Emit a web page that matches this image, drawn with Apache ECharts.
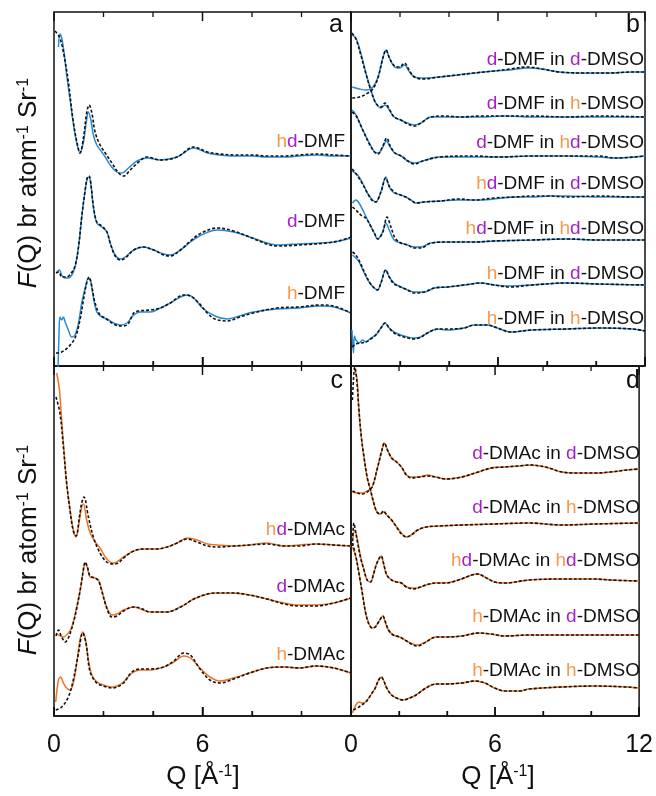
<!DOCTYPE html>
<html><head><meta charset="utf-8">
<script src="https://cdn.jsdelivr.net/npm/echarts@6/dist/echarts.min.js"></script>
<style>html,body{margin:0;padding:0;background:#fff}#c{width:656px;height:796px}</style>
</head><body><div id="c"></div>
<script>
// ---- axis ----
const xTicks = [0, 6, 12];
const xMinorTicks = [2, 4, 8, 10];
const xMin = 0, xMax = 12, xStep = 6;

// ---- panel a : DMF (solid = experiment, dashed = model) ----
const aExpHd = [[0.18,31.9],[0.24,33.2],[0.31,32.8],[0.41,31.3],[0.51,29.1],[0.65,26.6],[0.78,24.3],[0.92,22.3],[1.05,21.3],[1.19,22.4],[1.30,24.3],[1.39,25.4],[1.49,24.6],[1.59,23.1],[1.73,22.1],[1.93,21.4],[2.07,20.9],[2.27,20.1],[2.54,19.4],[2.74,19.3],[3.01,19.8],[3.35,20.5],[3.76,20.8],[4.30,20.6],[4.97,20.9],[5.65,21.8],[6.2,21.3],[6.7,21.1],[7.3,21.0],[8.0,21.0],[8.6,20.9],[9.3,20.9],[9.9,21.0],[10.6,21.1],[11.3,21.0],[12,21.0]];
const aSimHd = [[0.04,33.5],[0.22,32.9],[0.38,31.4],[0.58,28.4],[0.78,24.4],[0.95,22.1],[1.05,21.3],[1.19,22.8],[1.32,25.3],[1.42,26.1],[1.53,25.3],[1.66,23.4],[1.86,22.1],[2.07,21.3],[2.34,20.3],[2.61,19.3],[2.81,19.0],[3.08,19.6],[3.42,20.4],[3.76,20.9],[4.3,20.6],[4.97,20.9],[5.65,21.9],[6.2,21.4],[6.7,21.2],[7.3,21.1],[8.0,21.1],[8.6,21.0],[9.3,21.0],[9.9,21.1],[10.6,21.2],[11.3,21.1],[12,21.0]];
const aExpD = [[0.11,9.4],[0.22,9.6],[0.31,9.1],[0.45,8.8],[0.58,8.8],[0.72,9.1],[0.85,9.9],[0.99,11.9],[1.12,14.9],[1.26,17.6],[1.35,18.8],[1.42,18.9],[1.5,17.9],[1.59,15.9],[1.73,14.3],[1.93,13.9],[2.14,13.4],[2.27,12.3],[2.47,11.1],[2.68,10.7],[2.88,10.9],[3.22,11.6],[3.62,11.9],[4.03,11.6],[4.43,11.2],[4.7,11.1],[5.11,11.6],[5.51,12.4],[5.95,13.1],[6.6,13.6],[7.25,13.4],[7.9,12.9],[8.6,12.3],[9.0,12.1],[9.9,12.2],[11.3,12.4],[12,12.8]];
const aSimD = [[0.08,9.3],[0.2,9.4],[0.31,8.9],[0.51,8.9],[0.7,9.3],[0.85,10.0],[0.99,11.9],[1.12,14.9],[1.26,17.6],[1.35,18.9],[1.42,19.0],[1.5,18.0],[1.59,16.0],[1.73,14.4],[1.93,14.0],[2.14,13.4],[2.27,12.3],[2.47,11.0],[2.68,10.6],[2.88,10.8],[3.22,11.6],[3.62,11.9],[4.03,11.6],[4.43,11.1],[4.7,11.0],[5.11,11.6],[5.51,12.5],[5.95,13.3],[6.6,13.8],[7.25,13.5],[7.9,12.9],[8.6,12.2],[9.0,12.0],[9.9,12.1],[11.3,12.4],[12,12.9]];
const aExpH = [[0.16,-0.5],[0.2,3.0],[0.24,4.9],[0.31,4.6],[0.38,4.9],[0.45,4.4],[0.58,3.6],[0.72,2.9],[0.85,3.1],[0.99,4.3],[1.12,6.3],[1.26,7.8],[1.39,8.8],[1.49,8.4],[1.59,6.9],[1.73,5.4],[1.93,4.9],[2.14,4.7],[2.41,4.3],[2.68,4.1],[2.95,4.3],[3.22,5.1],[3.49,5.4],[3.89,5.4],[4.3,5.8],[4.7,6.3],[5.11,6.9],[5.38,7.1],[5.65,6.8],[6.0,5.8],[6.5,5.0],[7.0,4.7],[7.5,5.0],[8.05,5.4],[9.0,5.7],[9.9,5.8],[10.75,6.0],[11.3,5.9],[12,5.3]];
const aSimH = [[0.08,1.3],[0.31,1.4],[0.58,1.9],[0.85,2.8],[1.05,4.6],[1.19,6.6],[1.32,8.3],[1.42,8.9],[1.53,7.9],[1.66,6.3],[1.86,5.1],[2.07,4.8],[2.34,4.3],[2.68,4.0],[2.95,4.1],[3.22,5.3],[3.42,5.5],[3.89,5.6],[4.3,5.8],[4.7,6.3],[5.24,7.1],[5.51,7.0],[5.85,6.3],[6.19,5.3],[6.5,4.7],[7.0,4.5],[7.5,4.9],[8.05,5.3],[9.0,5.8],[9.9,5.9],[10.75,6.1],[11.3,6.0],[12,5.3]];

// ---- panel b : DMF in DMSO ----
const bExp1 = [[0.05,27.9],[0.35,27.7],[0.62,27.6],[0.89,27.9],[1.1,28.9],[1.3,30.8],[1.43,31.6],[1.57,30.8],[1.78,29.9],[1.98,29.8],[2.18,30.1],[2.39,29.4],[2.59,28.9],[2.93,28.8],[3.61,28.9],[4.35,29.1],[5.03,29.3],[5.84,29.5],[6.5,29.6],[7.2,29.8],[7.8,29.7],[8.5,29.4],[9.5,29.3],[10.5,29.3],[11.5,29.4],[12,29.4]];
const bSim1 = [[0.05,26.8],[0.35,26.9],[0.62,27.2],[0.89,27.7],[1.1,28.8],[1.3,30.8],[1.43,31.6],[1.57,30.8],[1.78,30.0],[1.98,29.9],[2.18,30.3],[2.39,29.5],[2.59,28.9],[2.93,28.7],[3.61,28.9],[4.35,29.1],[5.03,29.3],[5.84,29.5],[6.5,29.7],[7.2,29.9],[7.8,29.7],[8.5,29.4],[9.5,29.3],[10.5,29.3],[11.5,29.4],[12,29.4]];
const bExp2 = [[0.04,33.1],[0.2,32.8],[0.4,31.3],[0.61,29.3],[0.81,27.6],[1.01,26.3],[1.22,25.8],[1.39,26.1],[1.56,25.6],[1.76,24.9],[2.03,24.6],[2.31,24.3],[2.6,24.1],[2.85,24.3],[3.26,24.9],[3.8,24.9],[4.48,24.9],[5.3,24.9],[6.25,25.0],[7.4,24.9],[8.8,24.9],[10.1,24.9],[12,24.9]];
const bSim2 = [[0.04,33.3],[0.2,32.7],[0.4,31.1],[0.61,29.2],[0.81,27.6],[1.01,26.3],[1.22,25.9],[1.39,26.3],[1.56,25.7],[1.76,24.9],[2.03,24.6],[2.31,24.2],[2.6,24.0],[2.85,24.3],[3.26,24.9],[3.8,25.0],[4.48,24.9],[5.3,25.0],[6.25,25.0],[7.4,25.0],[8.8,24.9],[10.1,25.0],[12,24.9]];
const bExp3 = [[0.05,25.6],[0.21,25.1],[0.48,23.6],[0.75,22.3],[0.96,21.4],[1.1,21.3],[1.3,21.9],[1.44,22.5],[1.6,21.9],[1.78,21.3],[2.05,21.0],[2.32,20.5],[2.59,20.3],[2.93,20.5],[3.61,20.9],[4.97,20.9],[6.06,20.9],[7.4,21.0],[8.8,21.0],[10.1,20.9],[10.8,20.8],[12,21.0]];
const bSim3 = [[0.05,25.4],[0.21,25.0],[0.48,23.6],[0.75,22.2],[0.96,21.4],[1.1,21.2],[1.3,22.0],[1.46,22.8],[1.62,21.9],[1.8,21.3],[2.05,21.0],[2.32,20.5],[2.59,20.2],[2.93,20.5],[3.61,20.9],[4.97,21.0],[6.06,20.9],[7.4,21.0],[8.8,21.0],[10.1,21.0],[10.8,20.8],[12,21.0]];
const bExp4 = [[0.05,19.5],[0.27,19.1],[0.47,18.3],[0.67,17.3],[0.88,16.6],[1.01,16.4],[1.22,17.4],[1.42,18.9],[1.56,17.9],[1.76,17.3],[2.03,17.1],[2.24,16.9],[2.44,16.6],[2.65,16.3],[2.99,16.4],[3.67,16.5],[4.35,16.6],[5.03,16.6],[5.84,16.7],[6.7,16.9],[7.4,16.9],[8.1,17.0],[8.8,17.0],[10.1,16.9],[11.5,16.9],[12,16.9]];
const bSim4 = [[0.05,19.7],[0.27,19.0],[0.47,18.2],[0.67,17.3],[0.88,16.5],[1.01,16.4],[1.22,17.4],[1.42,18.8],[1.56,18.0],[1.76,17.4],[2.03,17.1],[2.24,16.9],[2.44,16.6],[2.65,16.3],[2.99,16.4],[3.67,16.5],[4.35,16.7],[5.03,16.6],[5.84,16.8],[6.7,16.9],[7.4,17.0],[8.1,17.0],[8.8,16.9],[10.1,17.0],[11.5,16.9],[12,16.9]];
const bExp5 = [[0.06,16.3],[0.2,16.6],[0.33,16.3],[0.54,15.3],[0.74,14.3],[0.95,13.3],[1.08,12.7],[1.29,13.4],[1.42,14.3],[1.56,13.6],[1.76,12.6],[2.03,12.3],[2.31,12.1],[2.58,11.9],[2.85,11.9],[3.26,12.3],[3.94,12.4],[5.03,12.4],[5.84,12.5],[7.4,12.6],[8.8,12.7],[10.1,12.6],[12,12.6]];
const bSim5 = [[0.06,15.9],[0.2,15.6],[0.4,15.1],[0.6,14.8],[0.8,14.0],[0.95,13.3],[1.1,12.7],[1.3,13.4],[1.47,14.9],[1.63,13.9],[1.8,12.8],[2.03,12.3],[2.31,12.1],[2.58,11.8],[2.85,11.8],[3.26,12.3],[3.94,12.4],[5.03,12.4],[5.84,12.5],[7.4,12.6],[8.8,12.7],[10.1,12.6],[12,12.6]];
const bExp6 = [[0.06,11.1],[0.2,10.8],[0.33,10.4],[0.54,9.3],[0.74,8.4],[0.95,7.8],[1.08,7.6],[1.22,8.3],[1.42,9.6],[1.56,8.9],[1.76,8.3],[2.03,7.9],[2.31,7.6],[2.58,7.4],[2.99,7.4],[3.4,7.8],[3.94,7.9],[4.62,8.1],[5.3,8.3],[5.84,8.1],[6.5,8.0],[7.4,8.1],[8.8,8.3],[10.1,8.2],[12,8.1]];
const bSim6 = [[0.06,11.4],[0.2,11.1],[0.4,10.2],[0.6,9.1],[0.8,8.2],[0.95,7.8],[1.08,7.6],[1.22,8.3],[1.42,9.6],[1.56,8.9],[1.76,8.2],[2.03,7.9],[2.31,7.6],[2.58,7.3],[2.99,7.4],[3.4,7.8],[3.94,7.9],[4.62,8.1],[5.3,8.3],[5.84,8.1],[6.5,7.9],[7.4,8.1],[8.8,8.3],[10.1,8.2],[12,8.1]];
const bExp7 = [[0.04,3.6],[0.1,1.3],[0.14,3.0],[0.2,2.6],[0.33,2.3],[0.47,2.6],[0.61,2.4],[0.81,2.8],[1.01,3.1],[1.22,3.8],[1.39,4.3],[1.56,3.8],[1.76,3.4],[2.03,3.1],[2.31,2.9],[2.58,2.8],[2.85,2.9],[3.12,3.3],[3.53,3.7],[3.94,3.6],[4.62,3.8],[5.03,4.1],[5.57,4.1],[5.98,3.8],[6.5,3.4],[7.4,3.6],[8.8,3.7],[10.1,3.8],[11.5,3.7],[12,3.5]];
const bSim7 = [[0.05,1.9],[0.2,2.2],[0.4,2.3],[0.61,2.4],[0.81,2.7],[1.01,3.1],[1.22,3.8],[1.39,4.3],[1.56,3.8],[1.76,3.3],[2.03,3.0],[2.31,2.8],[2.58,2.7],[2.85,2.9],[3.12,3.3],[3.53,3.7],[3.94,3.7],[4.62,3.8],[5.03,4.1],[5.57,4.1],[5.98,3.8],[6.5,3.4],[7.4,3.6],[8.8,3.7],[10.1,3.8],[11.5,3.7],[12,3.5]];

// ---- panel c : DMAc ----
const cExpHd = [[0.11,34.3],[0.22,32.6],[0.31,29.6],[0.41,26.3],[0.51,23.3],[0.65,20.6],[0.78,18.6],[0.89,17.9],[1.03,19.6],[1.12,20.9],[1.19,21.2],[1.32,19.6],[1.46,18.3],[1.66,17.4],[1.86,16.8],[2.07,15.9],[2.27,15.4],[2.41,15.3],[2.54,15.4],[2.81,15.9],[3.22,16.5],[3.62,16.7],[4.16,16.7],[4.57,16.9],[4.97,17.3],[5.38,17.8],[5.78,17.6],[6.2,17.2],[6.6,17.1],[7.25,17.0],[7.9,17.1],[8.6,17.3],[9.3,17.0],[9.9,17.1],[10.6,17.2],[11.3,17.1],[12,17.0]];
const cSimHd = [[0.08,31.9],[0.24,30.3],[0.38,26.9],[0.51,23.3],[0.65,20.5],[0.78,18.5],[0.89,18.0],[1.03,20.0],[1.12,21.3],[1.21,21.9],[1.39,19.9],[1.59,17.9],[1.86,16.3],[2.13,15.4],[2.41,15.2],[2.6,15.3],[2.81,15.8],[3.22,16.5],[3.62,16.7],[4.16,16.7],[4.57,16.9],[4.97,17.3],[5.38,17.7],[5.78,17.4],[6.2,17.0],[6.6,16.9],[7.25,17.0],[7.9,17.1],[8.6,17.2],[9.3,17.0],[9.9,17.0],[10.6,17.2],[11.3,17.1],[12,17.0]];
const cExpD = [[0.08,8.3],[0.18,8.1],[0.38,7.9],[0.58,8.3],[0.72,8.9],[0.92,10.9],[1.08,12.9],[1.19,14.6],[1.26,15.3],[1.35,14.8],[1.46,13.9],[1.66,13.8],[1.8,13.6],[1.93,12.6],[2.13,10.9],[2.34,10.1],[2.54,10.2],[2.81,10.6],[3.22,10.9],[3.49,10.7],[3.89,10.4],[4.57,10.4],[5.11,10.9],[5.65,11.7],[6.2,12.2],[6.6,12.3],[7.25,12.3],[7.9,12.1],[8.6,11.7],[9.3,11.3],[9.9,11.1],[10.6,11.1],[11.3,11.3],[12,11.8]];
const cSimD = [[0.08,8.0],[0.18,8.6],[0.31,7.9],[0.45,7.4],[0.58,7.8],[0.78,9.3],[0.92,10.8],[1.08,12.9],[1.19,14.7],[1.26,15.4],[1.35,14.9],[1.46,14.0],[1.66,13.8],[1.8,13.5],[1.93,12.5],[2.13,10.8],[2.34,9.9],[2.54,10.0],[2.81,10.5],[3.22,10.9],[3.49,10.8],[3.89,10.4],[4.57,10.4],[5.11,10.9],[5.65,11.7],[6.2,12.2],[6.6,12.3],[7.25,12.3],[7.9,12.1],[8.6,11.7],[9.3,11.2],[9.9,11.0],[10.6,11.0],[11.3,11.3],[12,11.8]];
const cExpH = [[0.07,1.4],[0.18,3.6],[0.27,3.9],[0.38,3.3],[0.51,2.8],[0.65,2.6],[0.78,3.3],[0.92,5.3],[1.05,7.6],[1.16,8.4],[1.26,7.8],[1.39,5.6],[1.53,4.1],[1.73,3.4],[2.0,3.1],[2.34,2.9],[2.54,3.0],[2.81,3.4],[3.15,4.3],[3.49,4.6],[3.89,4.6],[4.43,4.9],[4.84,5.4],[5.24,6.0],[5.51,5.8],[5.9,4.8],[6.3,3.9],[6.7,3.5],[7.25,3.8],[7.9,4.3],[8.6,4.8],[9.3,4.9],[9.9,4.8],[10.6,5.0],[11.3,4.8],[12,4.3]];
const cSimH = [[0.07,0.6],[0.31,0.9],[0.58,1.9],[0.78,3.6],[0.99,6.3],[1.16,8.3],[1.3,7.2],[1.46,4.4],[1.73,3.3],[2.0,3.0],[2.34,2.8],[2.54,2.9],[2.81,3.3],[3.15,4.4],[3.49,4.7],[3.89,4.7],[4.43,4.9],[4.84,5.5],[5.24,6.3],[5.51,6.1],[5.9,4.7],[6.3,3.6],[6.7,3.3],[7.25,3.7],[7.9,4.3],[8.6,4.8],[9.3,4.9],[9.9,4.8],[10.6,5.0],[11.3,4.8],[12,4.3]];

// ---- panel d : DMAc in DMSO ----
const dExp1 = [[0.06,22.4],[0.27,22.3],[0.47,22.3],[0.67,22.5],[0.88,22.9],[1.08,24.6],[1.29,26.6],[1.39,27.3],[1.52,26.6],[1.69,25.8],[1.9,25.4],[2.1,24.9],[2.31,24.1],[2.51,23.9],[2.85,23.9],[3.19,24.1],[3.53,23.9],[3.94,23.7],[4.62,23.9],[5.3,24.4],[5.84,24.8],[6.4,24.9],[7.0,25.0],[7.42,25.1],[8.1,24.9],[8.78,24.4],[9.5,24.3],[10.14,24.3],[10.8,24.4],[11.5,24.6],[12,24.7]];
const dSim1 = [[0.06,22.5],[0.27,22.3],[0.47,22.2],[0.67,22.4],[0.88,22.9],[1.08,24.6],[1.29,26.6],[1.39,27.3],[1.52,26.6],[1.69,25.8],[1.9,25.4],[2.1,24.9],[2.31,24.1],[2.51,23.8],[2.85,23.9],[3.19,24.0],[3.53,23.9],[3.94,23.7],[4.62,23.9],[5.3,24.4],[5.84,24.8],[6.4,24.9],[7.0,25.0],[7.42,25.1],[8.1,24.9],[8.78,24.4],[9.5,24.3],[10.14,24.3],[10.8,24.4],[11.5,24.6],[12,24.7]];
const dExp2 = [[0.12,34.8],[0.24,33.9],[0.33,30.6],[0.43,27.9],[0.54,25.9],[0.67,23.9],[0.81,22.6],[0.95,21.3],[1.08,20.4],[1.22,20.2],[1.35,20.4],[1.49,20.1],[1.69,19.6],[1.9,18.9],[2.1,18.3],[2.31,17.9],[2.51,18.1],[2.78,18.6],[3.12,18.9],[3.67,19.0],[4.62,19.1],[5.98,19.2],[7.42,19.3],[8.78,19.1],[10.14,19.2],[12,19.3]];
const dSim2 = [[0.06,31.6],[0.16,34.9],[0.24,33.6],[0.33,30.6],[0.43,27.9],[0.54,25.9],[0.67,23.9],[0.81,22.6],[0.95,21.3],[1.08,20.4],[1.22,20.2],[1.35,20.5],[1.49,20.1],[1.69,19.6],[1.9,18.9],[2.1,18.2],[2.31,17.9],[2.51,18.1],[2.78,18.6],[3.12,18.9],[3.67,19.0],[4.62,19.1],[5.98,19.2],[7.42,19.3],[8.78,19.1],[10.14,19.2],[12,19.3]];
const dExp3 = [[0.06,17.6],[0.16,18.6],[0.27,17.6],[0.4,15.9],[0.54,14.6],[0.67,13.6],[0.81,13.4],[0.95,14.3],[1.08,15.3],[1.26,16.0],[1.35,15.3],[1.49,14.1],[1.69,13.6],[1.9,13.4],[2.1,13.3],[2.31,12.9],[2.58,12.8],[2.78,12.8],[3.12,13.1],[3.53,13.3],[3.94,13.3],[4.48,13.6],[5.03,14.1],[5.3,14.2],[5.57,13.9],[5.98,13.4],[6.4,13.3],[7.42,13.6],[8.78,13.7],[10.14,13.7],[10.8,13.6],[12,13.5]];
const dSim3 = [[0.06,17.0],[0.12,19.3],[0.2,18.3],[0.27,17.4],[0.4,15.8],[0.54,14.6],[0.67,13.6],[0.81,13.4],[0.95,14.3],[1.08,15.3],[1.26,16.0],[1.35,15.3],[1.49,14.1],[1.69,13.6],[1.9,13.4],[2.1,13.3],[2.31,12.9],[2.58,12.7],[2.78,12.8],[3.12,13.1],[3.53,13.3],[3.94,13.3],[4.48,13.6],[5.03,14.1],[5.3,14.2],[5.57,13.9],[5.98,13.4],[6.4,13.3],[7.42,13.6],[8.78,13.7],[10.14,13.7],[10.8,13.6],[12,13.5]];
const dExp4 = [[0.06,16.9],[0.2,15.9],[0.33,14.3],[0.47,12.3],[0.61,10.3],[0.74,9.3],[0.88,8.8],[1.01,8.9],[1.15,9.4],[1.33,10.0],[1.42,9.4],[1.56,8.6],[1.76,8.1],[2.03,7.9],[2.31,7.5],[2.58,7.2],[2.78,7.1],[3.12,7.4],[3.53,7.9],[3.94,7.9],[4.62,8.0],[5.3,8.3],[5.84,8.2],[6.4,8.0],[7.42,8.1],[8.78,8.1],[10.14,8.1],[12,8.1]];
const dSim4 = [[0.06,17.3],[0.2,16.0],[0.33,14.3],[0.47,12.3],[0.61,10.3],[0.74,9.2],[0.88,8.8],[1.01,8.9],[1.15,9.4],[1.33,10.0],[1.42,9.5],[1.56,8.6],[1.76,8.1],[2.03,7.9],[2.31,7.5],[2.58,7.1],[2.78,7.0],[3.12,7.4],[3.53,7.9],[3.94,7.9],[4.62,8.0],[5.3,8.3],[5.84,8.2],[6.4,8.0],[7.42,8.1],[8.78,8.1],[10.14,8.1],[12,8.1]];
const dExp5 = [[0.06,0.3],[0.2,1.1],[0.33,1.4],[0.47,1.3],[0.61,1.4],[0.74,1.8],[0.88,2.3],[1.01,2.8],[1.15,3.6],[1.26,3.9],[1.35,3.6],[1.49,2.8],[1.69,2.1],[1.9,1.8],[2.17,1.6],[2.44,1.8],[2.71,2.1],[3.12,2.8],[3.53,3.2],[3.94,3.2],[4.62,3.3],[5.16,3.5],[5.57,3.3],[5.98,2.8],[6.4,2.5],[7.0,2.5],[7.42,2.7],[8.78,2.9],[10.14,3.0],[11.5,2.9],[12,2.8]];
const dSim5 = [[0.1,0.6],[0.33,0.9],[0.61,1.4],[0.74,1.8],[0.88,2.3],[1.01,2.8],[1.15,3.6],[1.26,3.9],[1.35,3.6],[1.49,2.8],[1.69,2.1],[1.9,1.8],[2.17,1.6],[2.44,1.8],[2.71,2.1],[3.12,2.8],[3.53,3.2],[3.94,3.2],[4.62,3.3],[5.16,3.5],[5.57,3.3],[5.98,2.8],[6.4,2.5],[7.0,2.5],[7.42,2.7],[8.78,2.9],[10.14,3.0],[11.5,2.9],[12,2.8]];

// ---- curve labels (rich text: o = h/hd orange, p = d purple) ----
const labelsA = ['{o|h}{p|d}{k|-DMF}', '{p|d}{k|-DMF}', '{o|h}{k|-DMF}'];
const labelsB = ['{p|d}{k|-DMF in }{p|d}{k|-DMSO}', '{p|d}{k|-DMF in }{o|h}{k|-DMSO}', '{p|d}{k|-DMF in }{o|h}{p|d}{k|-DMSO}',
  '{o|h}{p|d}{k|-DMF in }{p|d}{k|-DMSO}', '{o|h}{p|d}{k|-DMF in }{o|h}{p|d}{k|-DMSO}', '{o|h}{k|-DMF in }{p|d}{k|-DMSO}', '{o|h}{k|-DMF in }{o|h}{k|-DMSO}'];
const labelsC = ['{o|h}{p|d}{k|-DMAc}', '{p|d}{k|-DMAc}', '{o|h}{k|-DMAc}'];
const labelsD = ['{p|d}{k|-DMAc in }{p|d}{k|-DMSO}', '{p|d}{k|-DMAc in }{o|h}{k|-DMSO}', '{o|h}{p|d}{k|-DMAc in }{o|h}{p|d}{k|-DMSO}',
  '{o|h}{k|-DMAc in }{p|d}{k|-DMSO}', '{o|h}{k|-DMAc in }{o|h}{k|-DMSO}'];
const panelLetters = ['a', 'b', 'c', 'd'];

// ---- styling ----
const FONT = '"Liberation Sans", Arial, Helvetica, sans-serif';
const BLUE = '#2a8bd2', ORANGE = '#ec7328', TXT_O = '#f5994a', TXT_P = '#a421c9';

const gridBoxes = [
  {left: 54, top: 12, width: 297, height: 354, ymax: 35.4},
  {left: 351, top: 12, width: 294, height: 354, ymax: 35.4},
  {left: 54, top: 366, width: 297, height: 350, ymax: 35.0},
  {left: 351, top: 366, width: 294, height: 350, ymax: 35.0}
];

const grid = gridBoxes.map(g => ({left: g.left, top: g.top, width: g.width, height: g.height,
  show: true, borderColor: '#111', borderWidth: 1.5}));

const xAxis = [], yAxis = [];
gridBoxes.forEach((g, i) => {
  const showLab = i >= 2;
  const leftCol = (i % 2) === 0;
  xAxis.push({gridIndex: i, type: 'value', min: xMin, max: xMax, interval: xStep,
    axisLine: {show: true, lineStyle: {color: '#111', width: 1.5}}, splitLine: {show: false},
    axisTick: {show: true, inside: true, length: 9, lineStyle: {color: '#111', width: 1.5}},
    minorTick: {show: true, splitNumber: 3, length: 5, lineStyle: {color: '#111', width: 1.3}},
    axisLabel: {show: showLab, margin: 17, fontSize: 25, color: '#111', fontFamily: FONT,
      formatter: v => ((xTicks.indexOf(v) >= 0 && !(leftCol && v === xMax)) ? String(v) : '')}
  });
  yAxis.push({gridIndex: i, type: 'value', min: 0, max: g.ymax, show: false});
});

const series = [];
// inward tick marks at the top and bottom edge of every panel (length in y units: 10 px per unit)
gridBoxes.forEach((g, i) => {
  const marks = xTicks.map(v => [v, 0.9, 1.5]).concat(xMinorTicks.map(v => [v, 0.5, 1.3]));
  marks.forEach(m => {
    const v = m[0], len = m[1], w = m[2];
    series.push({type: 'line', xAxisIndex: i, yAxisIndex: i, data: [[v, g.ymax], [v, g.ymax - len]],
      showSymbol: false, clip: false, silent: true, z: 6, lineStyle: {color: '#111', width: w}});
    series.push({type: 'line', xAxisIndex: i, yAxisIndex: i, data: [[v, 0], [v, len]],
      showSymbol: false, clip: false, silent: true, z: 6, lineStyle: {color: '#111', width: w}});
  });
});

function addPair(gi, exp, sim, color) {
  series.push({type: 'line', xAxisIndex: gi, yAxisIndex: gi, data: exp, showSymbol: false, smooth: 0.35,
    lineStyle: {color, width: 1.5}, z: 2, silent: true});
  series.push({type: 'line', xAxisIndex: gi, yAxisIndex: gi, data: sim, showSymbol: false, smooth: 0.35,
    lineStyle: {color: '#111', width: 1.6, type: [3, 2]}, z: 3, silent: true});
}
[[aExpHd, aSimHd], [aExpD, aSimD], [aExpH, aSimH]].forEach(p => addPair(0, p[0], p[1], BLUE));
[[bExp1, bSim1], [bExp2, bSim2], [bExp3, bSim3], [bExp4, bSim4], [bExp5, bSim5], [bExp6, bSim6], [bExp7, bSim7]].forEach(p => addPair(1, p[0], p[1], BLUE));
[[cExpHd, cSimHd], [cExpD, cSimD], [cExpH, cSimH]].forEach(p => addPair(2, p[0], p[1], ORANGE));
[[dExp1, dSim1], [dExp2, dSim2], [dExp3, dSim3], [dExp4, dSim4], [dExp5, dSim5]].forEach(p => addPair(3, p[0], p[1], ORANGE));

function rich(size) {
  return {
    o: {fill: TXT_O, fontSize: size, fontFamily: FONT},
    p: {fill: TXT_P, fontSize: size, fontFamily: FONT},
    k: {fill: '#111', fontSize: size, fontFamily: FONT},
    n: {fill: '#111', fontSize: size, fontFamily: FONT},
    it: {fill: '#111', fontSize: size, fontFamily: FONT, fontStyle: 'italic'},
    s: {fill: '#111', fontSize: Math.round(size * 0.62), fontFamily: FONT, verticalAlign: 'top'}
  };
}
function txt(x, y, text, size, align, extra) {
  return Object.assign({type: 'text', x, y, silent: true, z: 10,
    style: {text, fill: '#111', fontSize: size, fontFamily: FONT, textAlign: align, textVerticalAlign: 'middle',
      align: align, verticalAlign: 'middle', rich: rich(size)}}, extra || {});
}

const graphic = [];
const labelY = {a: [142, 222, 294], b: [60, 104, 143, 184, 229, 274, 319], c: [530, 587, 655], d: [454, 508, 561, 617, 671]};
labelsA.forEach((t, i) => graphic.push(txt(345, labelY.a[i], t, 19, 'right')));
labelsB.forEach((t, i) => graphic.push(txt(644, labelY.b[i], t, 19, 'right')));
labelsC.forEach((t, i) => graphic.push(txt(345, labelY.c[i], t, 19, 'right')));
labelsD.forEach((t, i) => graphic.push(txt(640, labelY.d[i], t, 19, 'right')));
[[343, 25], [640, 25], [343, 381], [640, 381]].forEach((p, i) => graphic.push(txt(p[0], p[1], panelLetters[i], 25, 'right')));
graphic.push(txt(203, 777, '{n|Q [Å}{s|-1}{n|]}', 26, 'center'));
graphic.push(txt(498, 777, '{n|Q [Å}{s|-1}{n|]}', 26, 'center'));
const yTitle = '{it|F}{n|(Q) br atom}{s|-1}{n| Sr}{s|-1}';
graphic.push(txt(29, 183, yTitle, 26, 'center', {rotation: Math.PI / 2}));
graphic.push(txt(29, 550, yTitle, 26, 'center', {rotation: Math.PI / 2}));

const chart = echarts.init(document.getElementById('c'), null, {renderer: 'canvas'});
chart.setOption({animation: false, backgroundColor: '#fff', grid, xAxis, yAxis, series, graphic});
</script>
</body></html>
